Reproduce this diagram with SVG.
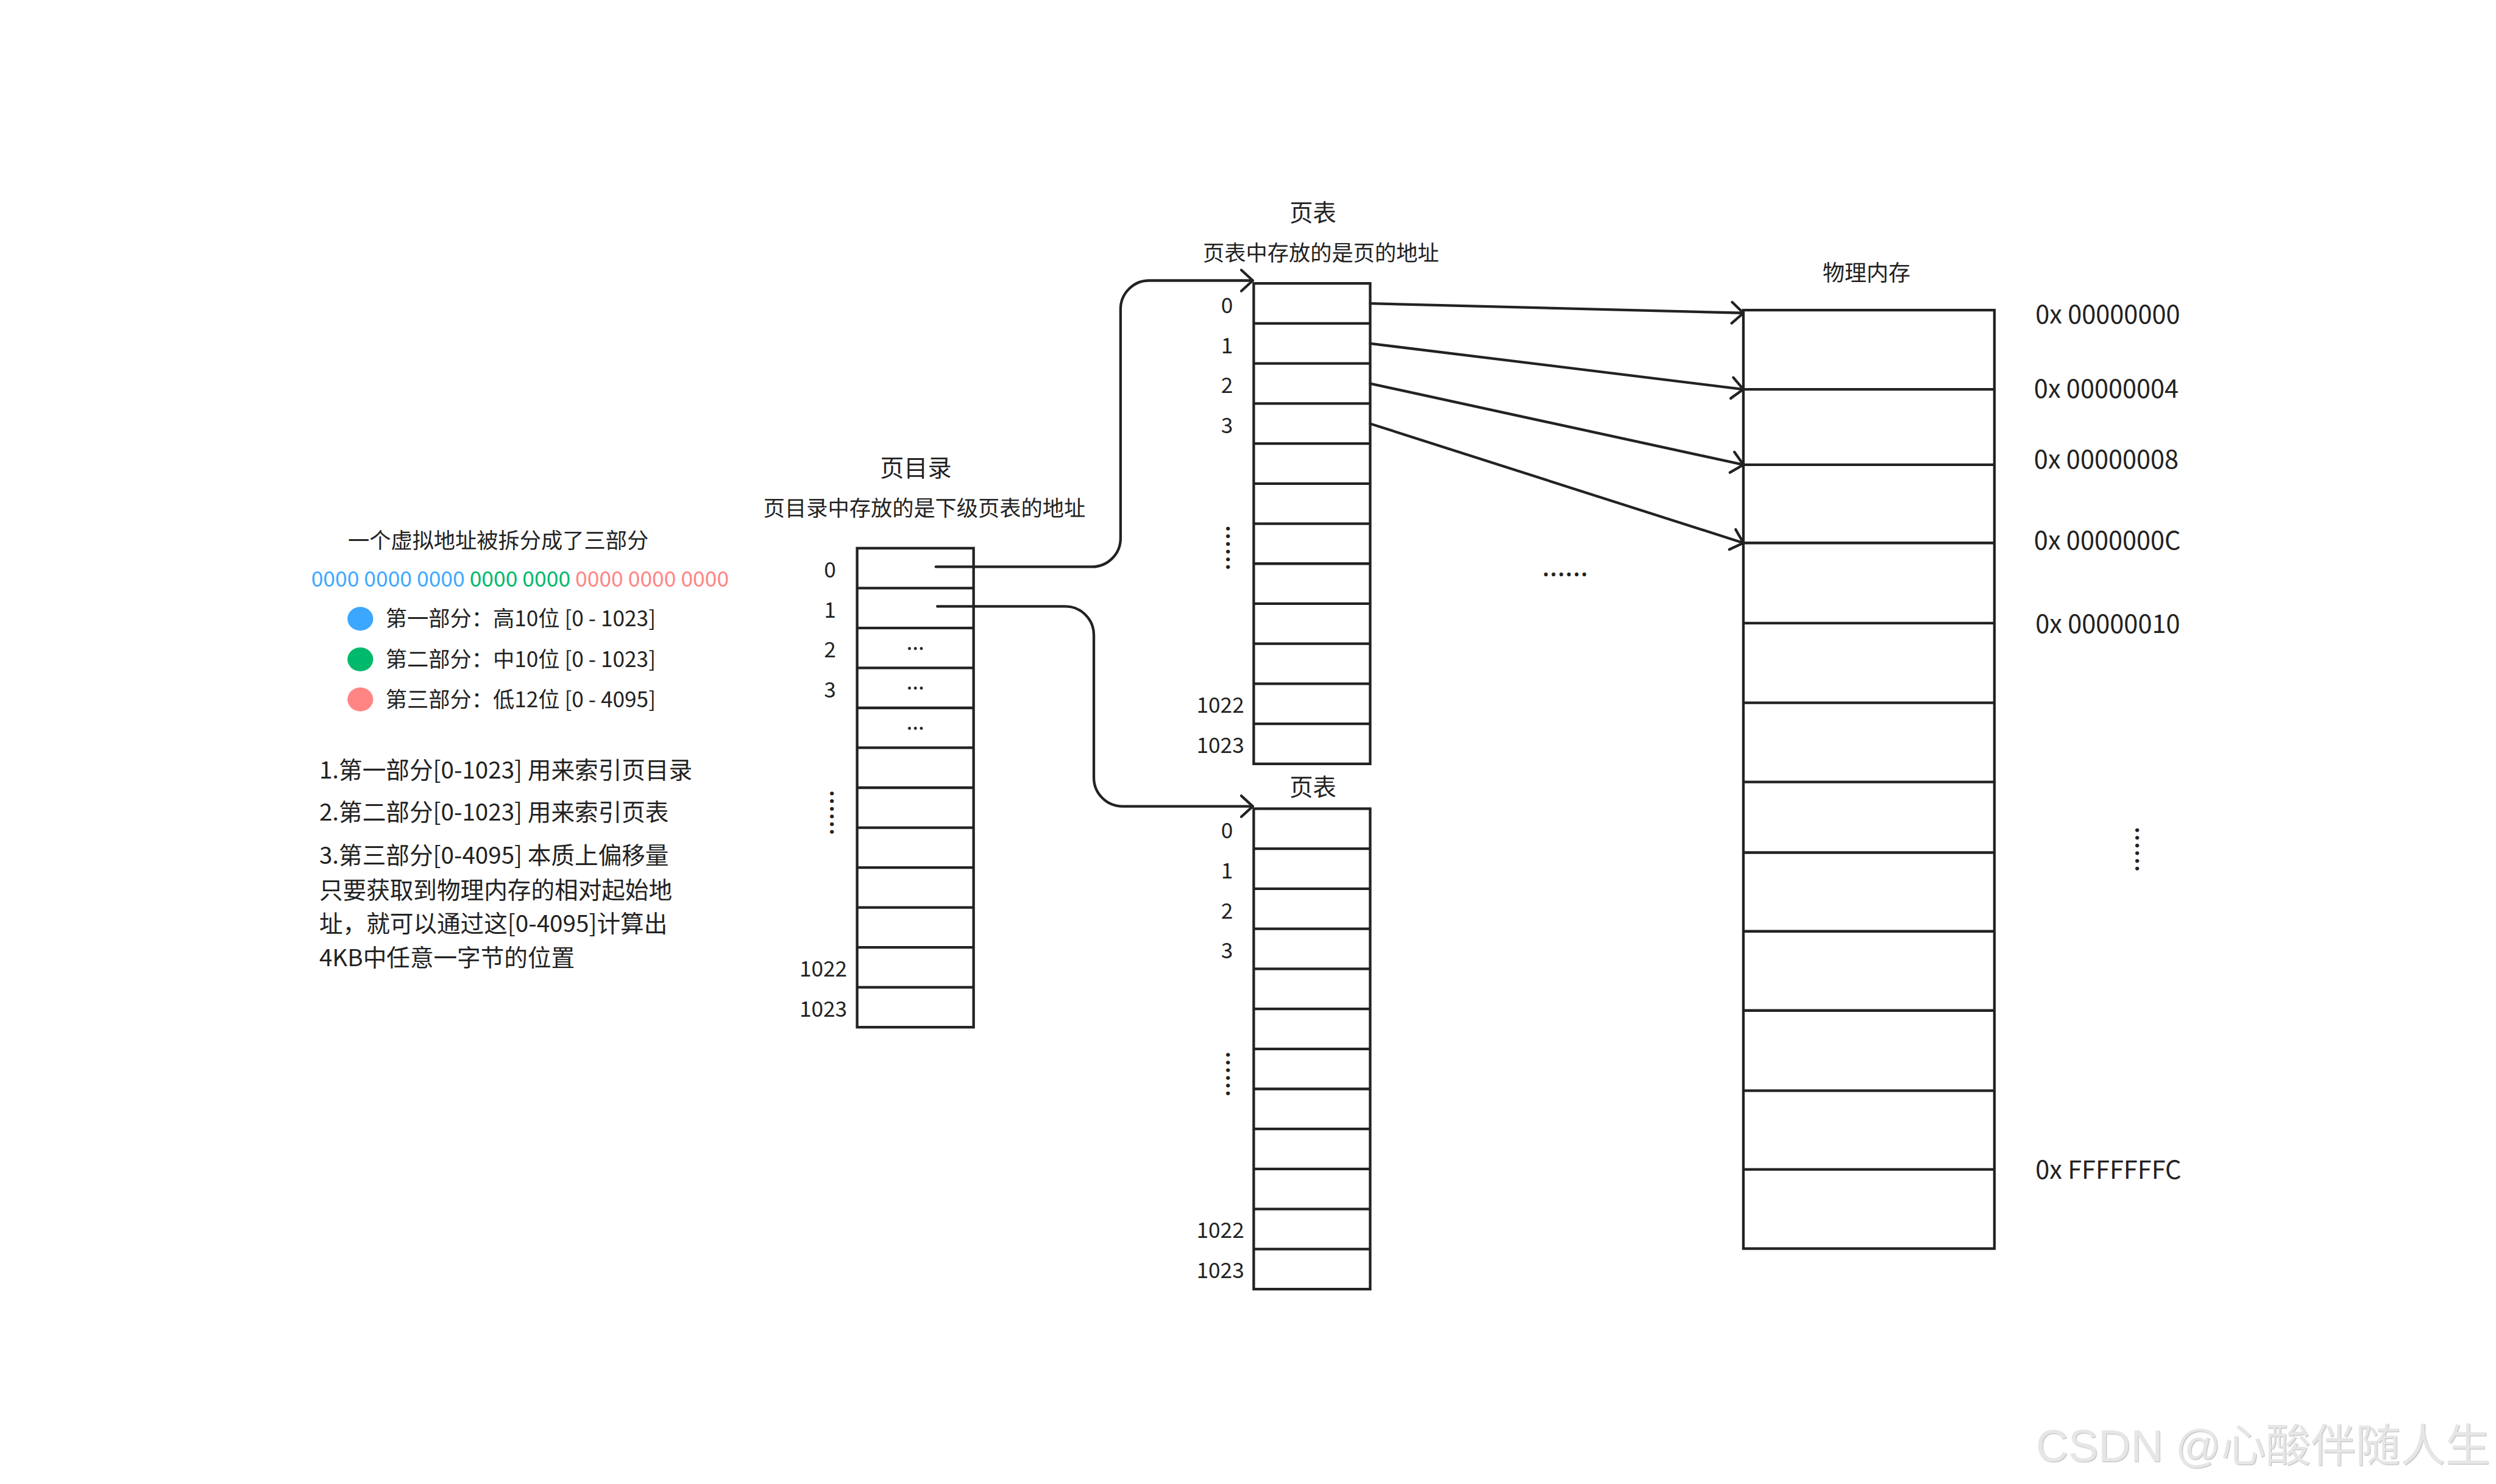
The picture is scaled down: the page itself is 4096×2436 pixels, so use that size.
<svg xmlns="http://www.w3.org/2000/svg" width="4096" height="2436" viewBox="0 0 4096 2436">
<style>
text{font-family:"Noto Sans CJK SC","Noto Sans",sans-serif;fill:#222}
.box{fill:none;stroke:#222;stroke-width:5.5}
.row{stroke:#222;stroke-width:5.5}
.conn{fill:none;stroke:#222;stroke-width:5.5;stroke-linecap:round;stroke-linejoin:round}
.lbl{font-size:45px;text-anchor:middle}
.lbl4{font-size:45px;text-anchor:end}
.title{font-size:50px;text-anchor:middle}
.sub{font-size:45px;text-anchor:middle}
.list{font-size:49.3px}
.addr{font-size:53px}
.dots{font-size:58px}
.wm{font-family:"Liberation Sans","Noto Sans CJK SC",sans-serif;font-size:94px;fill:#e6e6e6}
</style>
<defs>
<marker id="ah" viewBox="-32 -28 38 56" refX="0" refY="0" markerWidth="38" markerHeight="56" orient="auto" markerUnits="userSpaceOnUse">
<path d="M-24,-22 L0,0 L-24,22" fill="none" stroke="#222" stroke-width="5.5" stroke-linecap="round" stroke-linejoin="round"/>
</marker>
<filter id="sh" x="-5%" y="-20%" width="110%" height="140%">
<feDropShadow dx="1.5" dy="1.5" stdDeviation="0.6" flood-color="#b8b8b8" flood-opacity="0.9"/>
</filter>
</defs>
<rect width="4096" height="2436" fill="#fff"/>
<g transform="scale(0.78317)">

<g id="legend">
<text x="729" y="1149" style="font-size:45px">一个虚拟地址被拆分成了三部分</text>
<text x="652" y="1229" style="font-size:45.3px"><tspan fill="#40a9ff">0000 0000 0000 </tspan><tspan fill="#00b96b">0000 0000 </tspan><tspan fill="#ff8585">0000 0000 0000</tspan></text>
<ellipse cx="755" cy="1297" rx="27" ry="25" fill="#3ba7ff"/>
<ellipse cx="755" cy="1382" rx="27" ry="25" fill="#00b96b"/>
<ellipse cx="755" cy="1466" rx="27" ry="25" fill="#ff8585"/>
<text x="808" y="1313" style="font-size:45px">第一部分：高10位 [0 - 1023]</text>
<text x="808" y="1398" style="font-size:45px">第二部分：中10位 [0 - 1023]</text>
<text x="808" y="1482" style="font-size:45px">第三部分：低12位 [0 - 4095]</text>
<text class="list" x="669" y="1632">1.第一部分[0-1023] 用来索引页目录</text>
<text class="list" x="669" y="1720">2.第二部分[0-1023] 用来索引页表</text>
<text class="list" x="669" y="1811">3.第三部分[0-4095] 本质上偏移量</text>
<text class="list" x="669" y="1884">只要获取到物理内存的相对起始地</text>
<text class="list" x="669" y="1954">址，就可以通过这[0-4095]计算出</text>
<text class="list" x="669" y="2025">4KB中任意一字节的位置</text>
</g>

<g id="page-directory">
<text class="title" x="1919" y="998">页目录</text>
<text class="sub" x="1937" y="1082">页目录中存放的是下级页表的地址</text>
<rect class="box" x="1796" y="1149" width="244" height="1004"/>
<path class="row" d="M1796,1232.7H2040M1796,1316.3H2040M1796,1400H2040M1796,1483.7H2040M1796,1567.3H2040M1796,1651H2040M1796,1734.7H2040M1796,1818.3H2040M1796,1902H2040M1796,1985.7H2040M1796,2069.3H2040"/>
<text class="lbl" x="1739" y="1211">0</text>
<text class="lbl" x="1739" y="1295">1</text>
<text class="lbl" x="1739" y="1378">2</text>
<text class="lbl" x="1739" y="1462">3</text>
<text class="lbl4" x="1775" y="2047">1022</text>
<text class="lbl4" x="1775" y="2131">1023</text>
<text x="1918" y="1362" style="font-size:45px;text-anchor:middle">...</text>
<text x="1918" y="1446" style="font-size:45px;text-anchor:middle">...</text>
<text x="1918" y="1530" style="font-size:45px;text-anchor:middle">...</text>
<text class="dots" transform="translate(1740,1655) rotate(90)">......</text>
</g>

<g id="page-table-1">
<text class="title" x="2751" y="463" style="font-size:49px">页表</text>
<text class="sub" x="2768" y="546">页表中存放的是页的地址</text>
<rect class="box" x="2627" y="594" width="244" height="1007"/>
<path class="row" d="M2627,677.9H2871M2627,761.8H2871M2627,845.8H2871M2627,929.7H2871M2627,1013.6H2871M2627,1097.5H2871M2627,1181.4H2871M2627,1265.3H2871M2627,1349.2H2871M2627,1433.2H2871M2627,1517.1H2871"/>
<text class="lbl" x="2571" y="656">0</text>
<text class="lbl" x="2571" y="740">1</text>
<text class="lbl" x="2571" y="824">2</text>
<text class="lbl" x="2571" y="908">3</text>
<text class="lbl4" x="2607" y="1494">1022</text>
<text class="lbl4" x="2607" y="1578">1023</text>
<text class="dots" transform="translate(2570,1100) rotate(90)">......</text>
</g>

<g id="page-table-2">
<text class="title" x="2751" y="1668" style="font-size:49px">页表</text>
<rect class="box" x="2627" y="1695" width="244" height="1007"/>
<path class="row" d="M2627,1778.9H2871M2627,1862.8H2871M2627,1946.8H2871M2627,2030.7H2871M2627,2114.6H2871M2627,2198.5H2871M2627,2282.4H2871M2627,2366.3H2871M2627,2450.2H2871M2627,2534.2H2871M2627,2618.1H2871"/>
<text class="lbl" x="2571" y="1757">0</text>
<text class="lbl" x="2571" y="1841">1</text>
<text class="lbl" x="2571" y="1925">2</text>
<text class="lbl" x="2571" y="2009">3</text>
<text class="lbl4" x="2607" y="2595">1022</text>
<text class="lbl4" x="2607" y="2679">1023</text>
<text class="dots" transform="translate(2570,2203) rotate(90)">......</text>
</g>

<g id="physical-memory">
<text class="title" x="3911" y="588" style="font-size:46px">物理内存</text>
<rect class="box" x="3653" y="650" width="526" height="1967"/>
<path class="row" d="M3653,816H4179M3653,974H4179M3653,1138H4179M3653,1306H4179M3653,1473H4179M3653,1639H4179M3653,1787H4179M3653,1952H4179M3653,2118H4179M3653,2286H4179M3653,2451H4179"/>
<text class="addr" x="4265" y="678">0x 00000000</text>
<text class="addr" x="4262" y="834">0x 00000004</text>
<text class="addr" x="4262" y="982">0x 00000008</text>
<text class="addr" x="4262" y="1152">0x 0000000C</text>
<text class="addr" x="4265" y="1327">0x 00000010</text>
<text class="addr" x="4265" y="2471">0x FFFFFFFC</text>
<text class="dots" transform="translate(4475,1732) rotate(90)">......</text>
</g>

<g id="ellipsis">
<text class="dots" x="3231" y="1206">......</text>
</g>

<g id="connectors">
<path class="conn" marker-end="url(#ah)" d="M1961,1188H2288A60,60 0 0 0 2348,1128V648A60,60 0 0 1 2408,588H2625"/>
<path class="conn" marker-end="url(#ah)" d="M1964,1271H2232A60,60 0 0 1 2292,1331V1630A60,60 0 0 0 2352,1690H2625"/>
<path class="conn" marker-end="url(#ah)" d="M2871,636L3653,656"/>
<path class="conn" marker-end="url(#ah)" d="M2871,720L3653,816"/>
<path class="conn" marker-end="url(#ah)" d="M2871,804L3653,974"/>
<path class="conn" marker-end="url(#ah)" d="M2871,888L3653,1138"/>
</g>

<text class="wm" x="4266" y="3063" filter="url(#sh)">CSDN @心酸伴随人生</text>
</g>
</svg>
